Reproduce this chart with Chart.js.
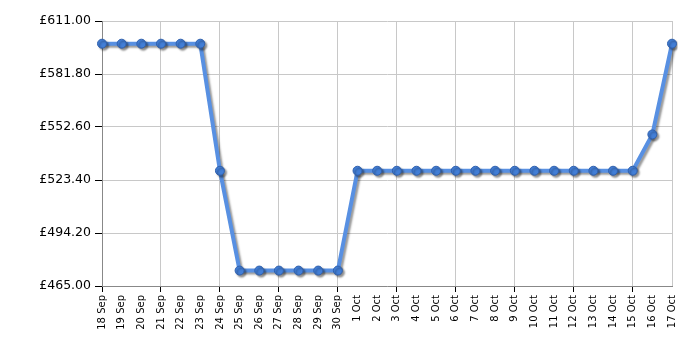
<!DOCTYPE html>
<html>
<head>
<meta charset="utf-8">
<style>
html,body{margin:0;padding:0;background:#fff;}
#wrap{width:700px;height:350px;position:relative;}
</style>
<script src="https://cdn.jsdelivr.net/npm/chart.js@4.4.1/dist/chart.umd.min.js"></script>
</head>
<body>
<div id="wrap"><canvas id="c" width="700" height="350"></canvas></div>
<script>
const categories = ["18 Sep","19 Sep","20 Sep","21 Sep","22 Sep","23 Sep","24 Sep","25 Sep","26 Sep","27 Sep","28 Sep","29 Sep","30 Sep","1 Oct","2 Oct","3 Oct","4 Oct","5 Oct","6 Oct","7 Oct","8 Oct","9 Oct","10 Oct","11 Oct","12 Oct","13 Oct","14 Oct","15 Oct","16 Oct","17 Oct"];
const prices = [598.5,598.5,598.5,598.5,598.5,598.5,528.5,473.5,473.5,473.5,473.5,473.5,473.5,528.5,528.5,528.5,528.5,528.5,528.5,528.5,528.5,528.5,528.5,528.5,528.5,528.5,528.5,528.5,548.5,598.5];
const yTicks = [465.00,494.20,523.40,552.60,581.80,611.00];

const shadowPlugin = {
  id:'shadow',
  beforeDatasetDraw(chart){
    const ctx = chart.ctx;
    ctx.save();
    ctx.shadowColor = 'rgba(0,0,0,0.4)';
    ctx.shadowOffsetX = 2;
    ctx.shadowOffsetY = 2;
    ctx.shadowBlur = 2;
  },
  afterDatasetDraw(chart){
    chart.ctx.restore();
  }
};

new Chart(document.getElementById('c'), {
  type:'line',
  data:{
    labels:categories,
    datasets:[{
      data:prices,
      borderColor:'rgb(88,144,226)',
      borderWidth:4,
      pointRadius:4.5,
      pointHoverRadius:4.5,
      pointBackgroundColor:'rgb(66,126,214)',
      pointBorderColor:'rgb(48,96,172)',
      pointBorderWidth:1,
      tension:0,
      fill:false
    }]
  },
  options:{
    responsive:false,
    animation:false,
    events:[],
    layout:{padding:{top:21,right:28,left:0,bottom:0}},
    plugins:{legend:{display:false},tooltip:{enabled:false}},
    scales:{
      x:{
        offset:false,
        grid:{
          display:true,
          color:(c)=> (c.index%3===0 || c.index===categories.length-1) ? '#c8c8c8' : 'rgba(0,0,0,0)',
          tickColor:(c)=> (c.index%3===0) ? '#000' : 'rgba(0,0,0,0)',
          tickLength:6,
          lineWidth:1
        },
        border:{display:true,color:'#888',width:1},
        ticks:{
          autoSkip:false,
          maxRotation:90,
          minRotation:90,
          padding:3,
          color:'#000',
          font:{family:'DejaVu Sans',size:10}
        },
        afterFit(s){ s.height = 64; }
      },
      y:{
        min:465,
        max:611,
        afterBuildTicks(s){ s.ticks = yTicks.map(v=>({value:v})); },
        grid:{color:'#c8c8c8',tickColor:'#000',tickLength:7,lineWidth:1},
        border:{display:true,color:'#888',width:1},
        ticks:{
          padding:4,
          color:'#000',
          font:{family:'DejaVu Sans',size:12.5},
          callback:(v)=>'£'+Number(v).toFixed(2)
        },
        afterFit(s){ s.width = 102; }
      }
    }
  },
  plugins:[shadowPlugin]
});
</script>
</body>
</html>
